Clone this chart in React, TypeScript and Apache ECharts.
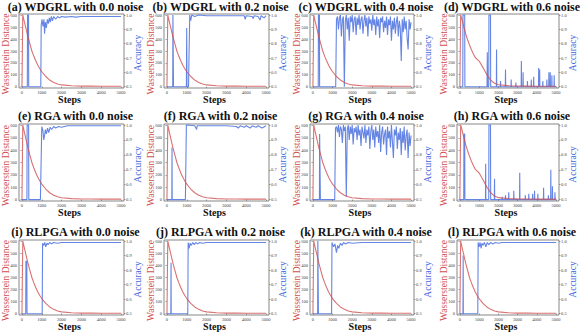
import React, { useEffect, useRef } from "react";
import * as echarts from "echarts";

const panelTitles = [
  "(a) WDGRL with 0.0 noise", "(b) WDGRL with 0.2 noise", "(c) WDGRL with 0.4 noise", "(d) WDGRL with 0.6 noise",
  "(e) RGA with 0.0 noise", "(f) RGA with 0.2 noise", "(g) RGA with 0.4 noise", "(h) RGA with 0.6 noise",
  "(i) RLPGA with 0.0 noise", "(j) RLPGA with 0.2 noise", "(k) RLPGA with 0.4 noise", "(l) RLPGA with 0.6 noise",
];
const xTicks = [0, 1000, 2000, 3000, 4000, 5000];
const leftTicks = [0, 100, 200, 300, 400, 500, 600];
const rightTicks = [0.5, 0.6, 0.7, 0.8, 0.9, 1.0];

const wdSteps = [0, 40, 100, 200, 300, 400, 500, 600, 700, 800, 900, 1000, 1200, 1400, 1600, 1800, 2000, 2500, 3000, 3500, 4000, 4500, 5000];
const wdFast = [0, 605, 560, 490, 420, 360, 300, 255, 215, 180, 150, 125, 85, 55, 35, 22, 14, 7, 4, 4, 3, 3, 3];
const wdSlow = [0, 605, 570, 505, 445, 395, 350, 310, 275, 245, 230, 215, 160, 100, 55, 28, 15, 8, 5, 4, 3, 3, 3];

const noisyStart = 1200;
const noisyStep = 50;
const noisyC = [0.97, 0.99, 0.9, 0.98, 1.0, 0.85, 0.97, 0.99, 0.5, 0.96, 1.0, 0.9, 0.98, 0.82, 0.99, 0.95, 1.0, 0.88, 0.97, 0.99,
  0.86, 0.98, 0.93, 1.0, 0.9, 0.97, 0.99, 0.87, 0.96, 1.0, 0.92, 0.98, 0.85, 0.99, 0.94, 0.97, 0.89, 1.0, 0.93, 0.97,
  0.86, 0.99, 0.92, 0.97, 0.84, 0.98, 0.95, 0.99, 0.88, 0.96, 0.91, 0.99, 0.86, 0.97, 0.93, 0.99, 0.82, 0.96, 0.9, 0.98,
  0.87, 0.95, 0.99, 0.85, 0.96, 0.91, 0.68, 0.97, 0.88, 0.99, 0.9, 0.96, 0.84, 0.76, 0.97, 0.9, 0.95];
const noisyG = [0.99, 0.95, 1.0, 0.92, 0.99, 0.97, 0.88, 1.0, 0.96, 0.99, 0.52, 0.97, 1.0, 0.9, 0.99, 0.94, 1.0, 0.87, 0.98, 0.95,
  0.99, 0.9, 1.0, 0.93, 0.97, 0.86, 0.99, 0.95, 0.91, 1.0, 0.88, 0.97, 0.93, 0.99, 0.84, 0.96, 1.0, 0.9, 0.97, 0.85,
  0.99, 0.92, 0.96, 0.88, 1.0, 0.82, 0.95, 0.99, 0.87, 0.94, 0.97, 0.8, 0.99, 0.91, 0.96, 0.85, 1.0, 0.89, 0.78, 0.97,
  0.93, 0.99, 0.84, 0.95, 0.9, 0.98, 0.8, 0.96, 0.88, 0.99, 0.83, 0.93, 0.97, 0.78, 0.95, 0.86, 0.93];

const accA = [[0, 0.5], [270, 0.5], [280, 1.0], [330, 1.0], [340, 0.5], [950, 0.5], [970, 0.93], [1010, 0.97], [1060, 0.92], [1110, 0.97], [1140, 0.87], [1180, 0.95], [1230, 0.91], [1280, 0.97], [1330, 0.94], [1380, 0.98], [1430, 0.95], [1480, 0.99], [1540, 0.96], [1600, 0.99], [1700, 0.97], [1800, 0.99], [1900, 0.98], [2000, 0.99], [2200, 0.985], [2500, 0.99], [2700, 0.985], [3000, 0.99], [4000, 0.99], [5000, 0.99]];
const accB = [[0, 0.5], [290, 0.5], [300, 1.0], [320, 1.0], [330, 0.5], [980, 0.5], [995, 0.91], [1010, 0.5], [1090, 0.5], [1110, 0.7], [1150, 1.0], [1200, 0.96], [1250, 1.0], [1400, 0.99], [1600, 1.0], [2000, 0.995], [3000, 0.995], [3900, 0.995], [3950, 0.97], [4000, 0.995], [4300, 0.99], [4350, 0.975], [4400, 0.995], [4600, 0.99], [4700, 0.965], [4750, 0.995], [4900, 0.98], [5000, 0.995]];
const accCStart = [[0, 0.5], [270, 0.5], [280, 1.0], [330, 1.0], [340, 0.5], [1160, 0.5]];
const accD = [[0, 0.5], [150, 0.5], [160, 1.0], [250, 1.0], [260, 0.5], [1410, 0.5], [1425, 0.74], [1440, 0.5], [1500, 0.5], [1510, 1.0], [1590, 1.0], [1600, 0.5], [1895, 0.5], [1905, 0.76], [1915, 0.5], [2100, 0.5], [2110, 0.54], [2120, 0.5], [2360, 0.5], [2370, 0.62], [2380, 0.5], [2655, 0.5], [2665, 0.55], [2675, 0.5], [2900, 0.5], [2910, 0.53], [2920, 0.5], [3185, 0.5], [3195, 0.68], [3205, 0.5], [3275, 0.5], [3285, 0.6], [3295, 0.5], [3500, 0.5], [3510, 0.54], [3520, 0.5], [3700, 0.5], [3710, 0.55], [3720, 0.5], [3825, 0.5], [3835, 0.57], [3845, 0.5], [4085, 0.5], [4095, 0.63], [4105, 0.5], [4135, 0.5], [4145, 0.62], [4155, 0.5], [4300, 0.5], [4310, 0.54], [4320, 0.5], [4510, 0.5], [4520, 0.55], [4530, 0.5], [4615, 0.5], [4625, 0.6], [4635, 0.5], [4685, 0.5], [4695, 0.6], [4705, 0.5], [4770, 0.5], [4780, 0.58], [4790, 0.5], [4890, 0.5], [4900, 0.58], [4910, 0.5], [5000, 0.5]];
const accE = [[0, 0.5], [250, 0.5], [260, 1.0], [335, 1.0], [345, 0.5], [930, 0.5], [1000, 0.99], [1060, 0.96], [1100, 0.9], [1140, 0.93], [1180, 0.97], [1230, 0.94], [1290, 0.98], [1350, 0.95], [1420, 0.985], [1500, 0.97], [1600, 0.99], [1700, 0.98], [1850, 0.99], [2000, 0.985], [2300, 0.995], [3000, 0.995], [4000, 0.995], [5000, 0.995]];
const accF = [[0, 0.5], [245, 0.5], [255, 0.85], [265, 0.5], [930, 0.5], [980, 1.0], [1400, 0.995], [1500, 0.97], [1520, 0.995], [2000, 0.995], [3000, 0.995], [3500, 0.99], [3600, 0.98], [3700, 0.995], [3900, 0.985], [4000, 0.995], [4200, 0.98], [4300, 0.995], [4500, 0.985], [4600, 0.995], [4800, 0.98], [5000, 0.995]];
const accGStart = [[0, 0.5], [330, 0.5], [340, 0.94], [370, 0.94], [380, 0.5], [1110, 0.5], [1150, 0.98]];
const accH = [[0, 0.5], [200, 0.5], [210, 0.94], [250, 0.94], [260, 0.5], [1330, 0.5], [1340, 0.74], [1350, 0.5], [1500, 0.5], [1510, 1.0], [1590, 1.0], [1600, 0.5], [1790, 0.5], [1800, 0.64], [1810, 0.5], [2190, 0.5], [2200, 0.52], [2210, 0.5], [2360, 0.5], [2370, 0.53], [2380, 0.5], [2530, 0.5], [2540, 0.55], [2550, 0.5], [2790, 0.5], [2800, 0.56], [2810, 0.5], [3100, 0.5], [3110, 0.68], [3120, 0.5], [3390, 0.5], [3400, 0.53], [3410, 0.5], [3570, 0.5], [3580, 0.54], [3590, 0.5], [3770, 0.5], [3780, 0.54], [3790, 0.5], [3870, 0.5], [3880, 0.56], [3890, 0.5], [4040, 0.5], [4050, 0.54], [4060, 0.5], [4340, 0.5], [4350, 0.58], [4360, 0.5], [4590, 0.5], [4600, 0.53], [4610, 0.5], [4715, 0.5], [4725, 0.7], [4735, 0.5], [4800, 0.5], [4810, 0.59], [4820, 0.5], [4930, 0.5], [4940, 0.55], [4950, 0.5], [5000, 0.5]];
const accI = [[0, 0.5], [190, 0.5], [200, 0.86], [245, 0.86], [255, 0.5], [1020, 0.5], [1040, 0.985], [1100, 0.97], [1150, 0.99], [1200, 0.96], [1260, 0.985], [1320, 0.975], [1400, 0.99], [1500, 0.98], [1600, 0.99], [1800, 0.985], [2000, 0.99], [3000, 0.99], [4000, 0.99], [5000, 0.99]];
const accJ = [[0, 0.5], [195, 0.5], [205, 0.85], [215, 0.5], [1050, 0.5], [1070, 0.99], [1120, 0.95], [1170, 0.985], [1230, 0.97], [1300, 0.99], [1380, 0.975], [1450, 0.99], [1550, 0.98], [1650, 0.99], [1800, 0.985], [2000, 0.99], [3000, 0.99], [4000, 0.99], [5000, 0.99]];
const accK = [[0, 0.5], [240, 0.5], [250, 1.0], [270, 1.0], [280, 0.5], [950, 0.5], [970, 0.99], [1050, 0.96], [1120, 0.98], [1200, 0.92], [1260, 0.97], [1320, 0.95], [1400, 0.985], [1480, 0.97], [1560, 0.99], [1650, 0.98], [1800, 0.99], [2000, 0.985], [2500, 0.99], [5000, 0.99]];
const accL = [[0, 0.5], [160, 0.5], [170, 0.9], [180, 0.5], [930, 0.5], [950, 0.99], [1000, 0.96], [1050, 0.99], [1100, 0.95], [1150, 0.985], [1200, 0.97], [1270, 0.99], [1350, 0.96], [1420, 0.99], [1500, 0.975], [1600, 0.99], [1700, 0.98], [1850, 0.99], [2000, 0.985], [2200, 0.99], [3000, 0.99], [4000, 0.99], [5000, 0.99]];

const withNoisy = (start: number[][], vals: number[]) =>
  start.concat(vals.map((v, i) => [noisyStart + i * noisyStep, v]));

const accuracySets = [
  accA, accB, withNoisy(accCStart, noisyC), accD,
  accE, accF, withNoisy(accGStart, noisyG), accH,
  accI, accJ, accK, accL,
];
const wdSets = [wdFast, wdFast, wdFast, wdSlow, wdFast, wdFast, wdFast, wdSlow, wdFast, wdFast, wdFast, wdFast];

const COLS = [
  { left: 19, width: 105 },
  { left: 164, width: 105 },
  { left: 310, width: 104 },
  { left: 457, width: 102 },
];
const ROWS = [
  { top: 14, height: 74, titleY: 6.5 },
  { top: 124, height: 77, titleY: 115.5 },
  { top: 240, height: 75, titleY: 231.5 },
];

const SERIF = "'Liberation Serif', 'Times New Roman', serif";
const RED = "#cf4f4f";
const BLUE = "#3f67dd";

function buildOption() {
  const grid: any[] = [];
  const xAxis: any[] = [];
  const yAxis: any[] = [];
  const series: any[] = [];
  const graphic: any[] = [];
  const tickLabel = { fontSize: 4.5, lineHeight: 5, color: "#444", fontFamily: SERIF };
  for (let i = 0; i < 12; i++) {
    const c = COLS[i % 4];
    const r = ROWS[Math.floor(i / 4)];
    grid.push({
      left: c.left, top: r.top, width: c.width, height: r.height,
      show: true, borderColor: "#555", borderWidth: 0.7, backgroundColor: "transparent",
      containLabel: false, outerBoundsMode: "none",
    });
    xAxis.push({
      gridIndex: i, type: "value", min: -150, max: 5150,
      axisLine: { show: false }, splitLine: { show: false },
      axisTick: { show: true, customValues: xTicks, length: 1.5, lineStyle: { color: "#555", width: 0.5 } },
      axisLabel: { ...tickLabel, customValues: xTicks, margin: 2, formatter: (v: number) => String(v) },
    });
    yAxis.push({
      gridIndex: i, type: "value", position: "left", min: -12, max: 612,
      axisLine: { show: false }, splitLine: { show: false },
      axisTick: { show: true, customValues: leftTicks, length: 1.5, lineStyle: { color: "#555", width: 0.5 } },
      axisLabel: { ...tickLabel, customValues: leftTicks, margin: 2, formatter: (v: number) => String(v) },
    });
    yAxis.push({
      gridIndex: i, type: "value", position: "right", min: 0.491, max: 1.007,
      axisLine: { show: false }, splitLine: { show: false },
      axisTick: { show: true, customValues: rightTicks, length: 1.5, lineStyle: { color: "#555", width: 0.5 } },
      axisLabel: { ...tickLabel, customValues: rightTicks, margin: 2, formatter: (v: number) => v.toFixed(1) },
    });
    series.push({
      type: "line", xAxisIndex: i, yAxisIndex: 2 * i + 1, data: accuracySets[i],
      showSymbol: false, symbol: "none", lineStyle: { color: BLUE, width: 1.1, opacity: 0.8 }, z: 2,
    });
    series.push({
      type: "line", xAxisIndex: i, yAxisIndex: 2 * i,
      data: wdSteps.map((s, k) => [s, wdSets[i][k]]),
      showSymbol: false, symbol: "none", lineStyle: { color: RED, width: 1.1, opacity: 0.8 }, z: 3,
    });
    const cx = c.left + c.width / 2;
    const cy = r.top + r.height / 2;
    graphic.push({
      type: "text", x: cx + 4, y: r.titleY,
      style: { text: panelTitles[i], fill: "#111", fontSize: 12, lineHeight: 12, fontWeight: "bold", fontFamily: SERIF,
        align: "center", verticalAlign: "middle", textAlign: "center", textVerticalAlign: "middle" },
    });
    graphic.push({
      type: "text", x: cx - 2, y: r.top + r.height + 11,
      style: { text: "Steps", fill: "#111", fontSize: 10, lineHeight: 10, fontWeight: "bold", fontFamily: SERIF,
        align: "center", verticalAlign: "middle", textAlign: "center", textVerticalAlign: "middle" },
    });
    graphic.push({
      type: "text", x: c.left - 13.5, y: cy + 3, rotation: Math.PI / 2,
      style: { text: "Wasserstein Distance", fill: RED, fontSize: 9.5, lineHeight: 10, fontFamily: SERIF,
        align: "center", verticalAlign: "middle", textAlign: "center", textVerticalAlign: "middle" },
    });
    graphic.push({
      type: "text", x: c.left + c.width + 13.5, y: cy + 2, rotation: Math.PI / 2,
      style: { text: "Accuracy", fill: BLUE, fontSize: 9.5, lineHeight: 10, fontFamily: SERIF,
        align: "center", verticalAlign: "middle", textAlign: "center", textVerticalAlign: "middle" },
    });
  }
  return { animation: false, backgroundColor: "#fff", grid, xAxis, yAxis, series, graphic };
}

export default function App() {
  const ref = useRef<HTMLDivElement>(null);
  useEffect(() => {
    if (!ref.current) return;
    const chart = echarts.init(ref.current, undefined, { renderer: "svg" });
    chart.setOption(buildOption() as any);
    return () => chart.dispose();
  }, []);
  return (
    <div
      ref={ref}
      style={{ position: "absolute", left: 0, top: 0, width: 581, height: 333, background: "#fff" }}
    />
  );
}
